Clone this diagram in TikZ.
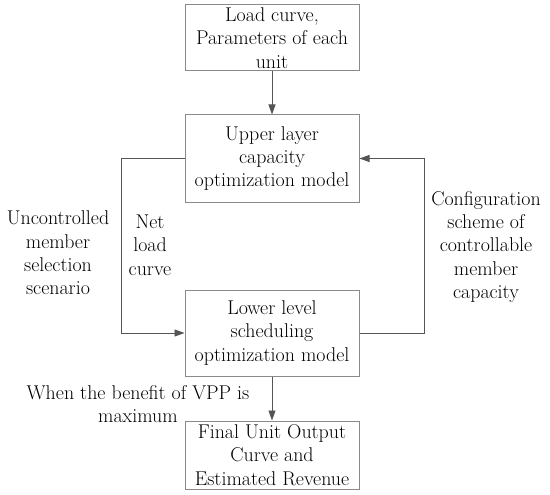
\documentclass[tikz,border=0pt]{standalone}
\usepackage{fontspec}
\usetikzlibrary{arrows.meta}
\definecolor{boxline}{HTML}{8A8A8A}
\definecolor{arrline}{HTML}{555555}
\tikzset{
  box/.style={draw=boxline, line width=1bp, minimum width=174bp, align=center, inner xsep=2bp, inner ysep=0bp,
    font=\fontsize{20}{23.5}\selectfont},
  lbl/.style={align=center, inner sep=0pt, font=\fontsize{20}{23.5}\selectfont},
  conn/.style={draw=arrline, line width=0.9bp, -{Triangle[length=10bp,width=7bp]}},
}
\begin{document}
\begin{tikzpicture}[x=1bp,y=-1bp]
\useasboundingbox[fill=white] (0,0) rectangle (550,495);
\node[box, minimum height=66bp] (b1) at (272,38) {Load curve,\\Parameters of each\\unit};
\node[box, minimum height=87bp] (b2) at (272,158.5) {Upper layer\\capacity\\optimization model};
\node[box, minimum height=86bp] (b3) at (272,333) {Lower level\\scheduling\\optimization model};
\node[box, minimum height=68bp] (b4) at (272,455) {Final Unit Output\\Curve and\\Estimated Revenue};
\coordinate (lc) at (121,158.5);
\coordinate (rc) at (424,333);
\draw[conn] (b1.south) -- (b2.north);
\draw[conn] (b2.west) -- (lc) |- (b3.west);
\draw[conn] (b3.east) -- (rc) |- (b2.east);
\draw[conn] (b3.south) -- (b4.north);
\node[lbl] (l1) at (58,253) {Uncontrolled\\member\\selection\\scenario};
\node[lbl] (l2) at (150,245) {Net\\load\\curve};
\node[lbl] (l3) at (486,247) {Configuration\\scheme of\\controllable\\member\\capacity};
\node[lbl] (l4) at (138,404) {When the benefit of VPP is\\maximum};
\end{tikzpicture}
\end{document}
